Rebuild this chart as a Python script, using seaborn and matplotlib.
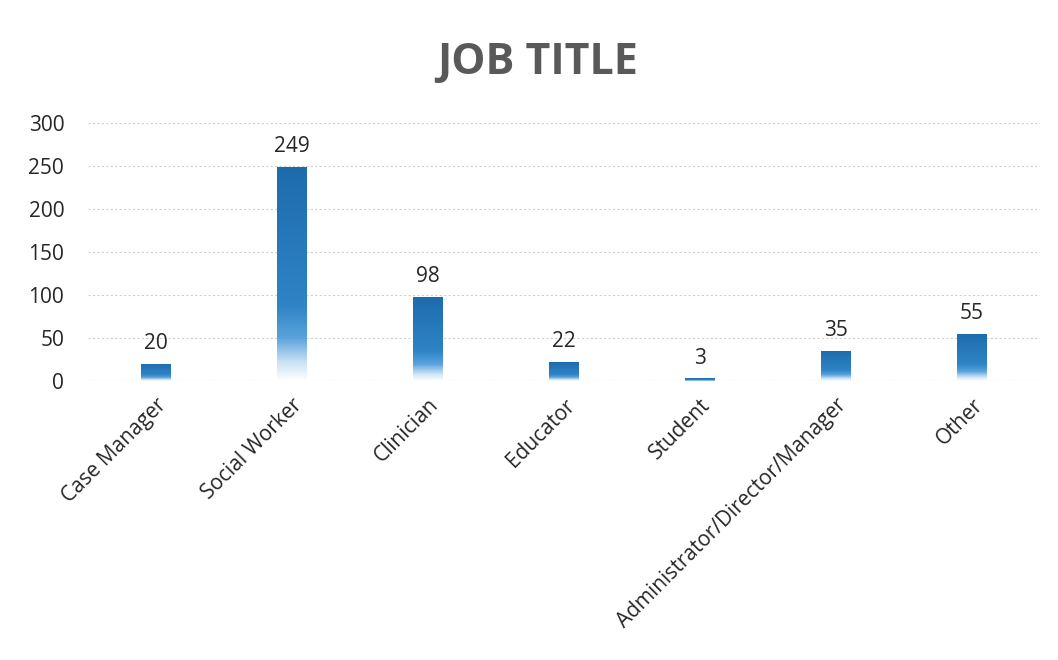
import numpy as np
import pandas as pd
import matplotlib
matplotlib.use("Agg")
import matplotlib.pyplot as plt
from matplotlib.colors import LinearSegmentedColormap
import seaborn as sns

job_titles = ["Case Manager", "Social Worker", "Clinician", "Educator",
              "Student", "Administrator/Director/Manager", "Other"]
counts = [20, 249, 98, 22, 3, 35, 55]
y_ticks = [0, 50, 100, 150, 200, 250, 300]

df = pd.DataFrame({"title": job_titles, "count": counts})

sns.set_theme(style="white")
plt.rcParams["font.family"] = ["Open Sans", "DejaVu Sans"]

fig = plt.figure(figsize=(10.58, 6.6), dpi=100)
ax = fig.add_axes([0.083, 0.423, 0.9, 0.391])

sns.barplot(data=df, x="title", y="count", color="#2a7fc4", width=0.22,
            ax=ax, zorder=2)

# vertical fade: solid blue at the top, dissolving to white at the base
fade = LinearSegmentedColormap.from_list(
    "fade",
    [(0.0, "#ffffff"), (0.08, "#cfe4f6"), (0.2, "#5aa3dc"),
     (0.35, "#2f84c6"), (1.0, "#1d6bad")])
grad = np.linspace(0, 1, 256).reshape(-1, 1)
for patch in ax.patches:
    x0, y0 = patch.get_x(), patch.get_y()
    w, h = patch.get_width(), patch.get_height()
    patch.set_facecolor("none")
    patch.set_edgecolor("none")
    im = ax.imshow(grad, cmap=fade, origin="lower", aspect="auto",
                   extent=[x0, x0 + w, y0, y0 + h], zorder=2,
                   interpolation="bilinear")
    im.set_clip_path(patch)

for i, v in enumerate(counts):
    ax.text(i, v + 11, str(v), ha="center", va="bottom", fontsize=15,
            color="#262626")

ax.set_xlim(-0.5, len(job_titles) - 0.5)
ax.set_ylim(0, 300)
ax.set_yticks(y_ticks)
ax.tick_params(axis="y", labelsize=15, labelcolor="#262626", length=0, pad=17)
ax.tick_params(axis="x", labelsize=15, labelcolor="#262626", length=0, pad=10)
plt.setp(ax.get_xticklabels(), rotation=45, ha="right",
         rotation_mode="anchor")
ax.set_xlabel("")
ax.set_ylabel("")
ax.grid(axis="y", color="#cfcfcf", linestyle=(0, (2, 2)), linewidth=0.8,
        zorder=0)
for side in ["top", "right", "left", "bottom"]:
    ax.spines[side].set_visible(False)
ax.axhline(0, color="#c8c8c8", linestyle=(0, (2, 2)), linewidth=0.8, zorder=1)

fig.text(0.508, 0.906, "JOB TITLE", ha="center", va="center", fontsize=31,
         fontweight="bold", color="#595959")

fig.savefig("out.png", dpi=100, facecolor="white")
